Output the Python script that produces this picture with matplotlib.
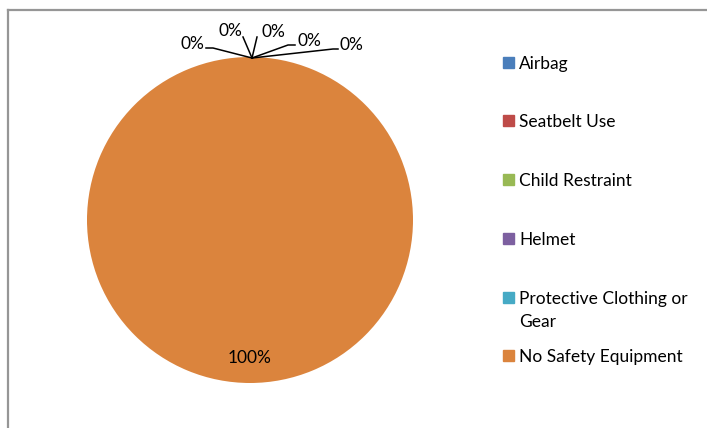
import matplotlib
matplotlib.use("Agg")
import matplotlib.pyplot as plt
from matplotlib.patches import Rectangle
from matplotlib.lines import Line2D

categories = ["Airbag", "Seatbelt Use", "Child Restraint", "Helmet",
              "Protective Clothing or\nGear", "No Safety Equipment"]
values = [0, 0, 0, 0, 0, 100]
colors = ["#4A7EBB", "#BE4B48", "#98B954", "#7D60A0", "#46AAC5", "#DB843D"]

plt.rcParams['font.family'] = ['Lato', 'DejaVu Sans']
FS = 12.5

W, H = 707, 428
fig = plt.figure(figsize=(W / 100, H / 100), dpi=100)

# pie centre / radius in pixels
cx, cy, R = 250, 220, 163
ax = fig.add_axes([(cx - R) / W, (H - cy - R) / H, 2 * R / W, 2 * R / H])
wedges, _ = ax.pie(values, colors=colors, startangle=90, counterclock=False,
                   radius=1, wedgeprops=dict(linewidth=0))
ax.set_xlim(-1, 1)
ax.set_ylim(-1, 1)
ax.set_aspect('equal')
ax.axis('off')

def px2d(px, py):
    return (px - cx) / R, (cy - py) / R

total = sum(values)
pct = [f"{v / total * 100:.0f}%" for v in values]

# leader-line label layout for the zero slices (pixels): elbow, end, text pos, ha
layout = [
    ((213, 48), (206, 48), (204, 44), 'right'),
    ((243, 37), (243, 37), (230, 31), 'center'),
    ((257, 37), (257, 37), (273, 32), 'center'),
    ((288, 45), (295, 45), (298, 41), 'left'),
    ((333, 49), (338, 49), (340, 45), 'left'),
]
apex = px2d(252, 58)
for lab, (elbow, end, tpos, ha) in zip(pct[:5], layout):
    e = px2d(*elbow)
    n = px2d(*end)
    ax.add_line(Line2D([apex[0], e[0], n[0]], [apex[1], e[1], n[1]],
                       color='black', lw=1.1, clip_on=False))
    tx, ty = px2d(*tpos)
    ax.text(tx, ty, lab, ha=ha, va='center', fontsize=FS, clip_on=False)

tx, ty = px2d(250, 358)
ax.text(tx, ty, pct[5], ha='center', va='center', fontsize=FS)

# legend
rows = [63, 121, 180, 239, 298, 356]
for cat, col, ry in zip(categories, colors, rows):
    fig.patches.append(Rectangle((503 / W, 1 - (ry + 5) / H), 11 / W, 11 / H,
                                 transform=fig.transFigure, color=col))
    fig.text(519 / W, 1 - (ry - 7) / H, cat, ha='left', va='top',
             fontsize=FS, linespacing=1.55)

# chart frame (partially cut)
fig.lines.append(Line2D([7.5 / W, 1], [1 - 9.5 / H, 1 - 9.5 / H],
                        transform=fig.transFigure, color='#969696', lw=1.6))
fig.lines.append(Line2D([7.5 / W, 7.5 / W], [0, 1 - 9.5 / H],
                        transform=fig.transFigure, color='#969696', lw=1.6))

fig.savefig("out.png", dpi=100)
